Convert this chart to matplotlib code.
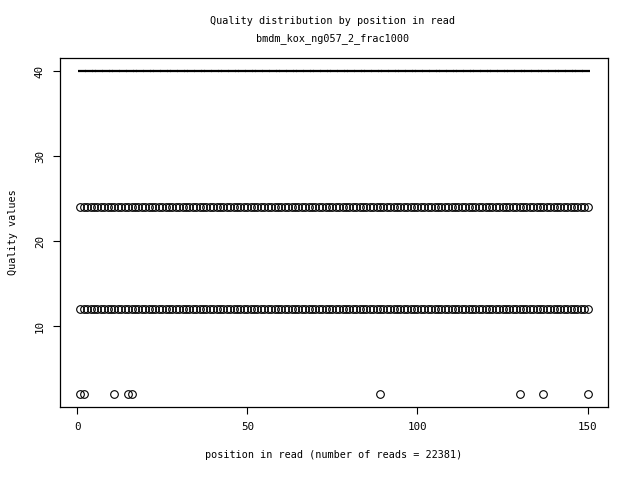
import matplotlib
matplotlib.use("Agg")
import matplotlib.pyplot as plt

# positions in read (1..150) and observed quality values
positions = list(range(1, 151))
q_high = 40      # seen at every position
q_mid = 24       # seen at every position
q_low = 12       # seen at every position
q_rare = 2
rare_positions = [1, 2, 11, 15, 16, 89, 130, 137, 150]

x_ticks = [0, 50, 100, 150]
y_ticks = [10, 20, 30, 40]

plt.rcParams['font.family'] = ['DejaVu Sans Mono']
fs = 7.3

fig = plt.figure(figsize=(6.4, 4.8), dpi=100)
ax = fig.add_axes([0.094, 0.152, 0.856, 0.727])

# circles for the 24 / 12 / 2 rows
for q in (q_mid, q_low):
    ax.plot(positions, [q] * len(positions), linestyle="none", marker="o",
            markersize=5.5, markerfacecolor="none", markeredgecolor="black",
            markeredgewidth=0.8)
ax.plot(rare_positions, [q_rare] * len(rare_positions), linestyle="none", marker="o",
        markersize=5.5, markerfacecolor="none", markeredgecolor="black",
        markeredgewidth=0.8)

# the 40 row looks like a solid dash line
ax.plot(positions, [q_high] * len(positions), linestyle="none", marker="_",
        markersize=3.0, markeredgecolor="black", markeredgewidth=1.6)

ax.set_xlim(-4.96, 155.96)
ax.set_ylim(0.48, 41.52)
ax.set_xticks(x_ticks)
ax.set_yticks(y_ticks)
ax.set_yticklabels([str(v) for v in y_ticks], rotation=90, va="center")
ax.tick_params(direction="out", length=5, width=0.8, labelsize=fs + 0.5, pad=6)
for s in ax.spines.values():
    s.set_linewidth(0.9)

ax.set_xlabel("position in read (number of reads = 22381)", fontsize=fs, labelpad=13)
ax.set_ylabel("Quality values", fontsize=fs, labelpad=12)

fig.text(0.52, 0.957, "Quality distribution by position in read", ha="center", va="center", fontsize=fs)
fig.text(0.52, 0.92, "bmdm_kox_ng057_2_frac1000", ha="center", va="center", fontsize=fs)

fig.savefig("out.png", dpi=100)
